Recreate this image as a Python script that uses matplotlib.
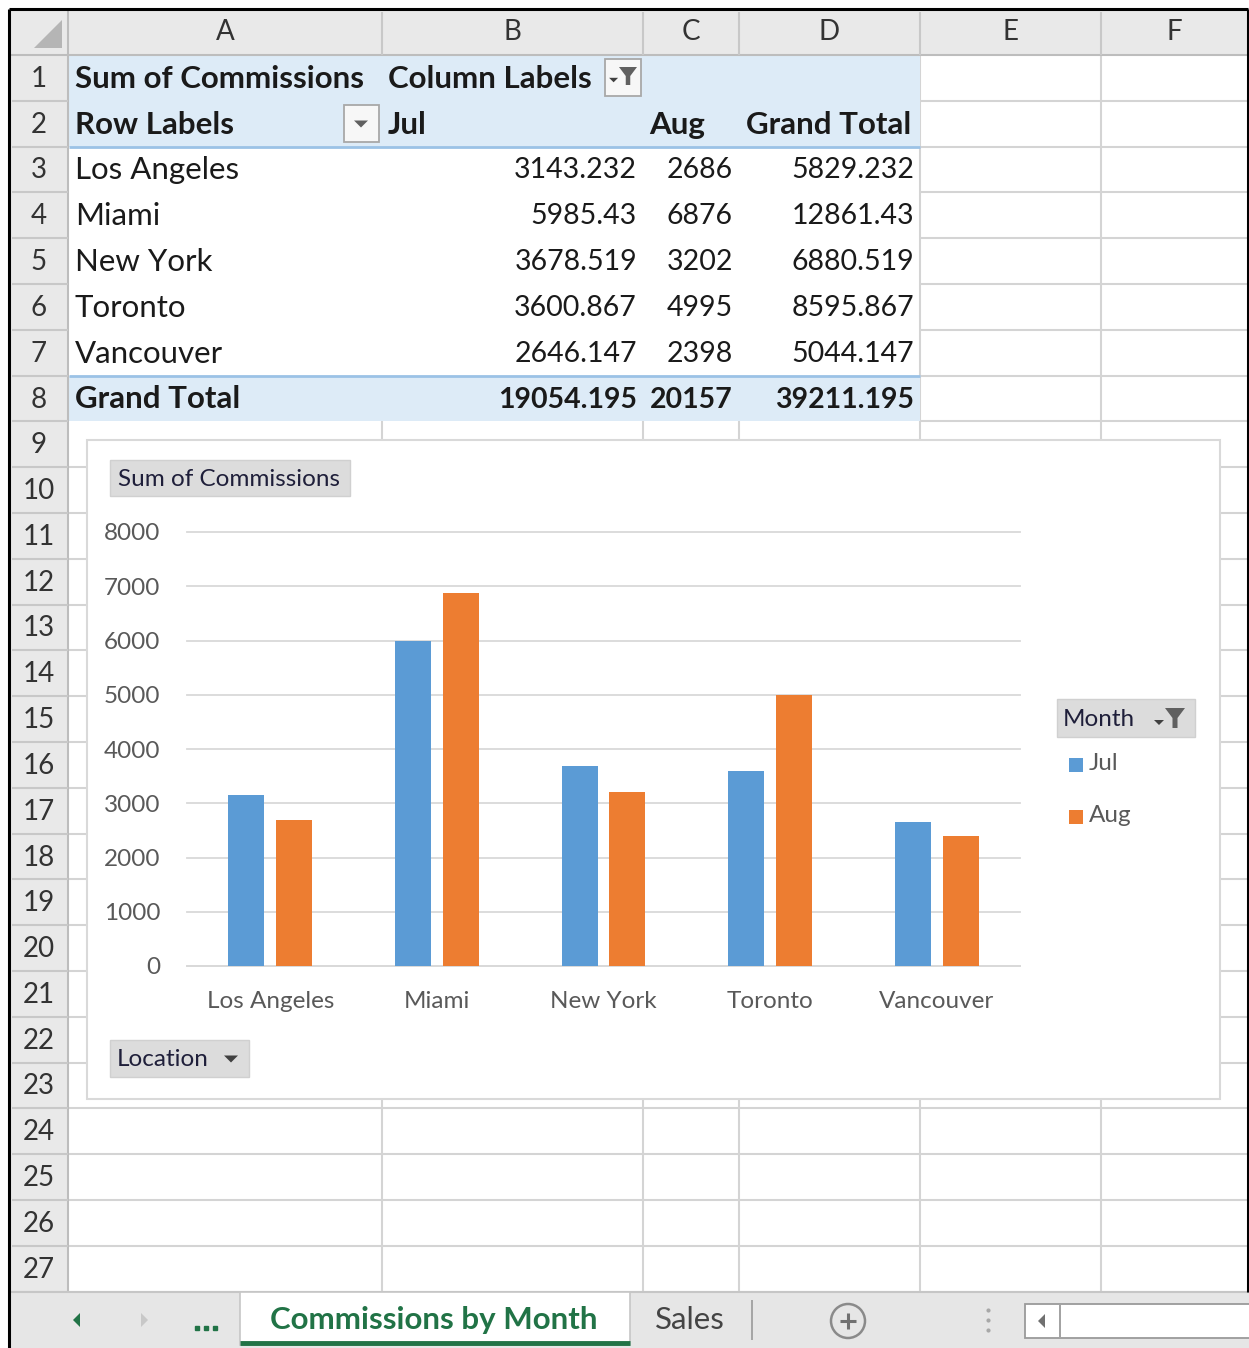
import numpy as np
import matplotlib
matplotlib.use("Agg")
from matplotlib import pyplot as plt
from matplotlib.patches import Rectangle, Polygon, Circle

# pivot table / chart data
cities = ["Los Angeles", "Miami", "New York", "Toronto", "Vancouver"]
months = ["Jul", "Aug"]
jul = [3143.232, 5985.43, 3678.519, 3600.867, 2646.147]
aug = [2686, 6876, 3202, 4995, 2398]
y_ticks = list(range(0, 9000, 1000))
col_letters = ["A", "B", "C", "D", "E", "F"]
sheet_tabs = ["Commissions by Month", "Sales"]

colors = ["#5B9BD5", "#ED7D31"]

W, H = 1249, 1348
plt.rcParams['font.family'] = ['Lato', 'DejaVu Sans']

fig = plt.figure(figsize=(W / 100, H / 100), dpi=100)
bg = fig.add_axes([0, 0, 1, 1])
bg.set_xlim(0, W)
bg.set_ylim(H, 0)
bg.axis('off')


def rect(x0, y0, x1, y1, fc, ec='none', lw=1.0, z=1):
    bg.add_patch(Rectangle((x0, y0), x1 - x0, y1 - y0, facecolor=fc, edgecolor=ec, linewidth=lw, zorder=z))


def line(xs, ys, c, lw=1.0, z=2):
    bg.plot(xs, ys, color=c, linewidth=lw, zorder=z, solid_capstyle='butt')


def funnel(cx, cy, s, z=6):
    # small funnel icon with down arrow
    bg.add_patch(Polygon([[cx - s, cy - s], [cx + s, cy - s], [cx + 0.25 * s, cy],
                          [cx + 0.25 * s, cy + s], [cx - 0.25 * s, cy + s], [cx - 0.25 * s, cy]],
                         closed=True, facecolor='#606060', edgecolor='none', zorder=z))
    ax0 = cx - 1.6 * s
    bg.add_patch(Polygon([[ax0 - 0.5 * s, cy + 0.2 * s], [ax0 + 0.5 * s, cy + 0.2 * s], [ax0, cy + 0.7 * s]],
                         closed=True, facecolor='#404040', edgecolor='none', zorder=z))


def down_tri(cx, cy, s, c='#606060', z=6):
    bg.add_patch(Polygon([[cx - s, cy - 0.5 * s], [cx + s, cy - 0.5 * s], [cx, cy + 0.5 * s]],
                         closed=True, facecolor=c, edgecolor='none', zorder=z))


col_edges = [68, 382, 643, 739, 920, 1101, 1247]
row_top = 55
row_h = 45.8
n_rows = 27
row_edges = [row_top + i * row_h for i in range(n_rows + 1)]
grid_c = '#D4D4D4'
FS = 22.5     # cell labels
NFS = 20.5    # cell numbers
HFS = 20      # headers
txt_c = '#1A1A1A'

# white sheet
rect(8, 8, W, H, 'white', z=0)

# gridlines
for i, y in enumerate(row_edges[1:], start=1):
    x_start = 68 if i >= 9 else 920
    line([x_start, 1247], [y, y], grid_c, 1.5)
for j, x in enumerate(col_edges[1:-1], start=1):
    y_start = 421 if j < 4 else row_top
    line([x, x], [y_start, row_edges[-1]], grid_c, 1.5)

# headers
rect(10, 10, 1247, row_top, '#E9E9E9', z=3)
rect(10, row_top, 68, row_edges[-1], '#E9E9E9', z=3)
line([10, 1247], [row_top, row_top], '#BDBDBD', 1.5, z=4)
line([68, 68], [10, row_edges[-1]], '#BDBDBD', 1.5, z=4)
for j, letter in enumerate(col_letters):
    cx = (col_edges[j] + col_edges[j + 1]) / 2
    bg.text(cx, 32, letter, ha='center', va='center', fontsize=HFS, color='#333333', zorder=5)
    if j > 0:
        line([col_edges[j], col_edges[j]], [12, row_top], '#C8C8C8', 1.5, z=4)
for i in range(n_rows):
    cy = (row_edges[i] + row_edges[i + 1]) / 2
    bg.text(39, cy + 1, str(i + 1), ha='center', va='center', fontsize=HFS, color='#333333', zorder=5)
    line([12, 68], [row_edges[i + 1], row_edges[i + 1]], '#C8C8C8', 1.5, z=4)
bg.add_patch(Polygon([[62, 20], [62, 48], [34, 48]], closed=True, facecolor='#B5B5B5', edgecolor='none', zorder=5))

# pivot table
blue_fill = '#DDEBF7'
blue_line = '#9BC2E6'
rect(69, row_edges[0], 920, row_edges[2], blue_fill, z=2)
rect(69, row_edges[7], 920, row_edges[8], blue_fill, z=2)
line([69, 920], [row_edges[2], row_edges[2]], blue_line, 2, z=3)
line([69, 920], [row_edges[7], row_edges[7]], blue_line, 2, z=3)


def rc(i):
    return (row_edges[i - 1] + row_edges[i]) / 2 + 1


def cell(x, i, s, ha='left', bold=False, size=FS):
    bg.text(x, rc(i), s, ha=ha, va='center', fontsize=size, fontweight='bold' if bold else 'normal',
            color=txt_c, zorder=5)


cell(75, 1, "Sum of Commissions", bold=True)
cell(388, 1, "Column Labels", bold=True)
cell(75, 2, "Row Labels", bold=True)
cell(388, 2, months[0], bold=True)
cell(649, 2, months[1], bold=True)
cell(746, 2, "Grand Total", bold=True)

# filter buttons
rect(344, 105, 379, 142, '#F7F7F7', '#A8A8A8', 1.3, z=5)
down_tri(361, 124, 7)
rect(605, 59, 641, 96, '#F7F7F7', '#A8A8A8', 1.3, z=5)
funnel(628, 76, 9)

for k, city in enumerate(cities):
    cell(75, 3 + k, city)
    cell(637, 3 + k, f"{jul[k]:.10g}", ha='right', size=NFS)
    cell(733, 3 + k, f"{aug[k]:.10g}", ha='right', size=NFS)
    cell(914, 3 + k, f"{jul[k] + aug[k]:.10g}", ha='right', size=NFS)
cell(75, 8, "Grand Total", bold=True)
cell(637, 8, f"{sum(jul):.10g}", ha='right', bold=True, size=NFS)
cell(733, 8, f"{sum(aug):.10g}", ha='right', bold=True, size=NFS)
cell(914, 8, f"{sum(jul) + sum(aug):.10g}", ha='right', bold=True, size=NFS)

# chart box
rect(87, 440, 1220, 1099, 'white', '#D9D9D9', 1.5, z=6)
CF = 17.5
btn_c = '#1F1F3A'
rect(110, 460, 350, 496, '#DCDCDC', '#D0D0D0', 1, z=7)
bg.text(118, 479, "Sum of Commissions", ha='left', va='center', fontsize=CF, color=btn_c, zorder=8)
rect(110, 1040, 249, 1077, '#DCDCDC', '#D0D0D0', 1, z=7)
bg.text(117, 1060, "Location", ha='left', va='center', fontsize=CF, color=btn_c, zorder=8)
down_tri(231, 1059, 7, c='#404040', z=8)
rect(1057, 699, 1195, 737, '#DCDCDC', '#D0D0D0', 1, z=7)
bg.text(1063, 719, "Month", ha='left', va='center', fontsize=CF, color=btn_c, zorder=8)
funnel(1175, 718, 10, z=8)

# legend
for k, m in enumerate(months):
    ly = 765 + k * 52
    rect(1069, ly - 7, 1083, ly + 7, colors[k], z=8)
    bg.text(1089, ly - 1, m, ha='left', va='center', fontsize=CF, color='#595959', zorder=8)

# tab bar
rect(10, row_edges[-1], W, H, '#E6E6E6', z=5)
line([10, W], [row_edges[-1], row_edges[-1]], '#C6C6C6', 1.5, z=6)
rect(240, row_edges[-1], 630, 1345, 'white', '#C6C6C6', 1.2, z=6)
line([240, 630], [1343, 1343], '#217346', 3.5, z=7)
bg.text(434, 1320, sheet_tabs[0], ha='center', va='center', fontsize=22.5, fontweight='bold', color='#217346', zorder=8)
bg.text(690, 1320, sheet_tabs[1], ha='center', va='center', fontsize=22.5, color='#444444', zorder=8)
line([752, 752], [1300, 1340], '#A0A0A0', 1.3, z=7)
bg.add_patch(Circle((848, 1321), 17, facecolor='none', edgecolor='#8A8A8A', linewidth=1.8, zorder=7))
line([840, 856], [1321, 1321], '#707070', 2.2, z=8)
line([848, 848], [1313, 1329], '#707070', 2.2, z=8)
bg.plot([988, 988, 988], [1310, 1320, 1330], 'o', color='#A8A8A8', ms=2, zorder=7)
bg.add_patch(Polygon([[80, 1313], [80, 1327], [73, 1320]], closed=True, facecolor='#217346', edgecolor='none', zorder=7))
bg.add_patch(Polygon([[141, 1313], [141, 1327], [148, 1320]], closed=True, facecolor='#C8C8C8', edgecolor='none', zorder=7))
bg.plot([197, 206, 215], [1328, 1328, 1328], 's', color='#217346', ms=3, zorder=7)
rect(1025, 1304, 1252, 1338, 'white', '#9A9A9A', 1.3, z=7)
line([1060, 1060], [1305, 1337], '#9A9A9A', 1.3, z=8)
bg.add_patch(Polygon([[1045, 1314], [1045, 1328], [1038, 1321]], closed=True, facecolor='#707070', edgecolor='none', zorder=8))

# outer frame
line([9, 1248], [9, 9], 'black', 2.2, z=9)
line([9, 9], [9, H], 'black', 2.2, z=9)
line([1248, 1248], [9, row_edges[-1]], 'black', 2.2, z=9)

# pivot chart
ax = fig.add_axes([187 / W, 1 - 966 / H, 833 / W, 434 / H])
ax.set_facecolor('none')
x = np.arange(len(cities))
ax.bar(x - 0.144, jul, 0.216, color=colors[0], zorder=3)
ax.bar(x + 0.144, aug, 0.216, color=colors[1], zorder=3)
ax.set_xlim(-0.5, len(cities) - 0.5)
ax.set_ylim(0, 8000)
ax.set_yticks(y_ticks)
ax.set_xticks(x, cities)
ax.yaxis.grid(True, color='#D9D9D9', linewidth=1.3)
for gl in ax.get_ygridlines():
    gl.set_clip_on(False)
ax.set_axisbelow(True)
for s in ['top', 'right', 'left']:
    ax.spines[s].set_visible(False)
ax.spines['bottom'].set_color('#D9D9D9')
ax.spines['bottom'].set_linewidth(1.3)
ax.tick_params(axis='both', length=0, colors='#595959', labelsize=CF)
ax.tick_params(axis='y', pad=19)
ax.tick_params(axis='x', pad=18)

fig.savefig("out.png", dpi=100)
